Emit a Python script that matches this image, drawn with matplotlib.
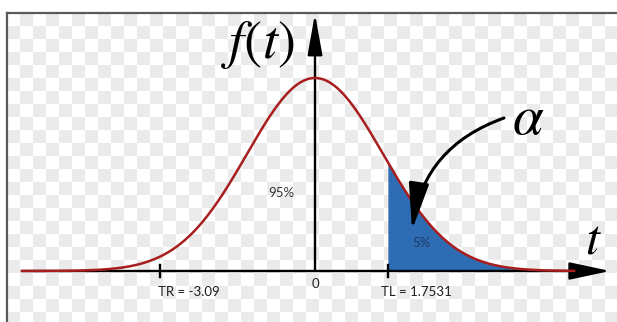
import numpy as np
import matplotlib
matplotlib.use("Agg")
import matplotlib.pyplot as plt
from matplotlib.patches import FancyArrowPatch
from matplotlib.lines import Line2D

plt.rcParams["mathtext.fontset"] = "stix"

# distribution shown (standardised units)
mu = 0.0
sigma = 1.0
t_start = -4.31
t_end = 3.81
axis_end = 4.34

# critical values: position on the drawn axis and their labels
tick_pos = [-2.28, 1.07]
tick_labels = ["TR = -3.09", "TL = 1.7531"]
zero_label = "0"

# area labels
area_labels = ["95%", "5%"]
area_pos = [(-0.50, 0.162), (1.56, 0.058)]

W, H = 617, 322
fig = plt.figure(figsize=(W / 100, H / 100), dpi=100)

# checkerboard background inside the frame
x0, y0 = 7, 13
bg = fig.add_axes([x0 / W, 0, (W - x0) / W, (H - y0) / H])
cell = 13
nx = int(np.ceil((W - x0) / cell))
ny = int(np.ceil((H - y0) / cell))
board = (np.add.outer(np.arange(ny), np.arange(nx)) % 2).astype(float)
bg.imshow(board, cmap=matplotlib.colors.ListedColormap(["#ffffff", "#ebebeb"]),
          aspect="auto", interpolation="bilinear", extent=[0, nx * cell, ny * cell, 0])
bg.set_xlim(0, W - x0)
bg.set_ylim(H - y0, 0)
bg.axis("off")

# frame (left and top edges)
fig.add_artist(Line2D([x0 / W, x0 / W], [0, 1 - y0 / H], color="#5a5a5a", lw=1.6))
fig.add_artist(Line2D([x0 / W, 1], [1 - y0 / H, 1 - y0 / H], color="#5a5a5a", lw=1.6))

ax = fig.add_axes([0, 0, 1, 1], zorder=2)
ax.patch.set_alpha(0)
ax.set_xlim(-315 / 68, (W - 315) / 68)
ax.set_ylim((271 - H) / 483.8, 271 / 483.8)
ax.axis("off")

t = np.linspace(t_start, t_end, 600)
pdf = np.exp(-0.5 * ((t - mu) / sigma) ** 2) / (sigma * np.sqrt(2 * np.pi))

# shaded tail
mask = t >= tick_pos[1]
ax.fill_between(t[mask], 0, pdf[mask], color="#2e6db3", zorder=2, lw=0)

# axes with arrows
ax.add_patch(FancyArrowPatch((t_start, 0), (axis_end, 0),
                             arrowstyle="-|>,head_length=1.4,head_width=0.3",
                             mutation_scale=18, color="black", lw=1.7,
                             shrinkA=0, shrinkB=0, zorder=3))
ax.add_patch(FancyArrowPatch((0, 0), (0, 271 / 483.8 - 0.028),
                             arrowstyle="-|>,head_length=1.4,head_width=0.25",
                             mutation_scale=18, color="black", lw=1.7,
                             shrinkA=0, shrinkB=0, zorder=3))

# curve
ax.plot(t, pdf, color="#a81e1e", lw=1.8, zorder=4)

# ticks and labels
label_style = dict(ha="center", va="center", fontsize=9.5, family="Lato", color="#1e1e1e")
for p, lab in zip(tick_pos, tick_labels):
    ax.plot([p, p], [-0.013, 0.013], color="black", lw=1.7, zorder=5)
    ax.text(p + 0.42, -0.043, lab, **label_style)
ax.text(0.01, -0.027, zero_label, **label_style)

ax.text(*area_pos[0], area_labels[0], ha="center", va="center", fontsize=9.5,
        family="Lato", color="#333333")
ax.text(*area_pos[1], area_labels[1], ha="center", va="center", fontsize=9.5,
        family="Lato", color="#1d3a66", zorder=6)

# big symbols
ax.text(-0.84, 0.467, r"$f(t)$", ha="center", va="center", fontsize=39, color="black")
ax.text(3.13, 0.315, r"$\alpha$", ha="center", va="center", fontsize=40, color="black")
ax.text(4.10, 0.066, r"$t$", ha="center", va="center", fontsize=36, color="black")

# curved pointer from alpha into the tail
ax.add_patch(FancyArrowPatch(((504 - 315) / 68, (271 - 118) / 483.8),
                             ((412 - 315) / 68, (271 - 230) / 483.8),
                             connectionstyle="arc3,rad=0.3",
                             arrowstyle="-|>,head_length=1.3,head_width=0.28",
                             mutation_scale=22, color="black", lw=2.2,
                             shrinkA=0, shrinkB=0, zorder=7))

fig.savefig("out.png", dpi=100)
